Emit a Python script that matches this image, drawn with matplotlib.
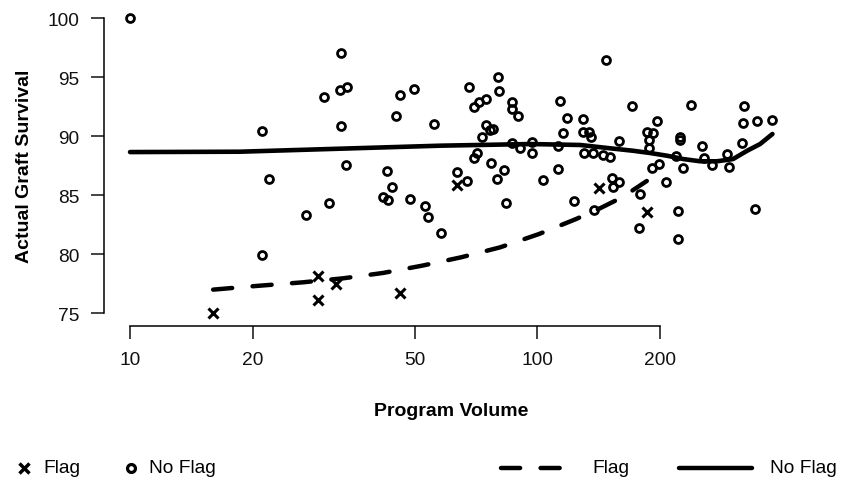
import matplotlib
matplotlib.use("Agg")
import matplotlib.pyplot as plt
from matplotlib.lines import Line2D
from matplotlib.ticker import NullLocator

plt.rcParams['font.family'] = ['Liberation Sans', 'DejaVu Sans']

# program volume / graft survival
noflag_x = [10, 21.1, 21.1, 22.0, 27.0, 30.0, 30.9, 33.0, 32.8, 34.1, 33.0, 34.0,
            42.8, 44.0, 41.8, 43.0, 45.0, 46.0, 49.9, 48.8, 52.9, 53.9, 55.8, 58.1,
            68.1, 69.8, 72.1, 74.9, 80.1, 80.8, 86.7, 86.7, 90.0, 74.9, 76.7, 77.8,
            73.1, 71.1, 69.8, 63.7, 67.2, 76.9, 83.0, 79.6, 83.9, 86.7, 90.8, 97.0,
            97.0, 103.6, 113.9, 118.7, 116.1, 112.8, 112.8, 123.5, 130.0, 130.0,
            134.3, 136.0, 130.4, 137.5, 145.5, 151.2, 138.2, 147.5, 159.0, 153.1,
            159.0, 153.7, 171.5, 186.0, 193.1, 197.5, 188.7, 188.7, 191.3, 199.5,
            179.1, 177.5, 207.2, 224.6, 224.6, 219.6, 228.9, 222.5, 222.5, 238.6,
            254.7, 257.7, 269.6, 292.4, 296.2, 318.4, 321.3, 323.2, 347.8, 378.6,
            343.3]
noflag_y = [100.0, 90.46, 79.96, 86.34, 83.32, 93.34, 84.31, 97.01, 93.93, 94.13, 90.88, 87.53,
            87.02, 85.66, 84.87, 84.62, 91.68, 93.48, 94.01, 84.65, 84.06, 83.12, 91.05, 81.77,
            94.13, 92.44, 92.86, 93.14, 95.0, 93.84, 92.86, 92.29, 91.68, 90.97, 90.54, 90.6,
            89.9, 88.57, 88.12, 86.93, 86.22, 87.72, 87.13, 86.34, 84.31, 89.39, 89.02, 89.48,
            88.57, 86.28, 93.0, 91.53, 90.24, 89.14, 87.19, 84.5, 91.45, 90.32,
            90.38, 89.9, 88.57, 88.57, 88.43, 88.2, 83.77, 96.47, 89.61, 86.43,
            86.14, 85.72, 92.52, 90.38, 90.26, 91.3, 89.67, 88.97, 87.3, 87.64,
            85.1, 82.22, 86.14, 89.95, 89.7, 88.29, 87.3, 83.68, 81.29, 92.66,
            89.19, 88.12, 87.58, 88.48, 87.36, 89.39, 91.08, 92.52, 91.25, 91.36,
            83.83]

flag_x = [16.0, 28.9, 28.9, 32.0, 46.0, 63.7, 142.0, 186.0]
flag_y = [75.0, 78.18, 76.15, 77.48, 76.71, 85.89, 85.58, 83.55]

# smoothed fits
fit_noflag_x = [10, 18.6, 57.8, 96.1, 127.6, 151.1, 172.2, 189.5, 208.6, 228.5,
                251.5, 276.9, 303.1, 328.1, 353.1, 378.6]
fit_noflag_y = [88.65, 88.68, 89.19, 89.33, 89.25, 88.97, 88.76, 88.57, 88.34, 88.06,
                87.87, 87.87, 88.06, 88.76, 89.33, 90.18]
fit_flag_x = [16.0, 19.9, 26.6, 33.4, 41.8, 52.2, 65.1, 81.1, 101.1, 124.7, 142.8, 161.8, 186.0]
fit_flag_y = [77.0, 77.28, 77.62, 77.96, 78.41, 79.03, 79.74, 80.58, 81.71, 82.98, 83.89, 84.82, 86.2]

xticks = [10, 20, 50, 100, 200]
yticks = [75, 80, 85, 90, 95, 100]

W, H = 852, 481
fig = plt.figure(figsize=(W / 100, H / 100), dpi=100)
ax = fig.add_axes([104 / W, 1 - 327 / H, 695 / W, 320 / H])

ax.plot(noflag_x, noflag_y, ls='none', marker='o', ms=5.7, mfc='none', mec='black',
        mew=2.0, clip_on=False, zorder=3)
ax.plot(flag_x, flag_y, ls='none', marker='x', ms=7, mec='black', mew=2.2,
        clip_on=False, zorder=3)
ax.plot(fit_noflag_x, fit_noflag_y, color='black', lw=3.3, solid_capstyle='round', zorder=2)
ax.plot(fit_flag_x, fit_flag_y, color='black', lw=3.2, ls=(0, (4.3, 4.6)),
        dash_capstyle='round', zorder=2)

ax.set_xscale('log')
ax.set_xlim(8.63, 440)
ax.set_ylim(73.92, 101.02)
ax.set_xticks(xticks)
ax.set_xticklabels([str(t) for t in xticks])
ax.xaxis.set_minor_locator(NullLocator())
ax.set_yticks(yticks)

for s in ['top', 'right']:
    ax.spines[s].set_visible(False)
ax.spines['left'].set_bounds(75, 100)
ax.spines['bottom'].set_bounds(10, 200)
for s in ['left', 'bottom']:
    ax.spines[s].set_linewidth(1.1)
ax.tick_params(axis='both', length=9.3, width=1.1, labelsize=13.8, colors='#111111')
ax.tick_params(axis='x', pad=8.5)
ax.tick_params(axis='y', pad=8.3)

fig.text(25 / W, 1 - 166 / H, 'Actual Graft Survival', rotation=90, ha='center',
         va='center', fontsize=14, fontweight='bold')
fig.text(451.5 / W, 1 - 412 / H, 'Program Volume', ha='center', va='center',
         fontsize=14, fontweight='bold')

# legend row along the bottom
ly = 1 - 469 / H
fig.add_artist(Line2D([24 / W], [ly], marker='x', ms=6.5, mec='black', mew=2.5, ls='none'))
fig.text(43 / W, ly, 'Flag', ha='left', va='center', fontsize=13.8)
fig.add_artist(Line2D([131 / W], [ly], marker='o', ms=5.7, mfc='none', mec='black',
                      mew=2.3, ls='none'))
fig.text(149 / W, ly, 'No Flag', ha='left', va='center', fontsize=13.8)
fig.add_artist(Line2D([501 / W, 561 / W], [ly, ly], color='black', lw=3.2,
                      ls=(0, (4.3, 4.6)), dash_capstyle='round'))
fig.text(592 / W, ly, 'Flag', ha='left', va='center', fontsize=13.8)
fig.add_artist(Line2D([679 / W, 752 / W], [ly, ly], color='black', lw=3.2,
                      solid_capstyle='round'))
fig.text(770 / W, ly, 'No Flag', ha='left', va='center', fontsize=13.8)

fig.savefig('out.png', dpi=100)
